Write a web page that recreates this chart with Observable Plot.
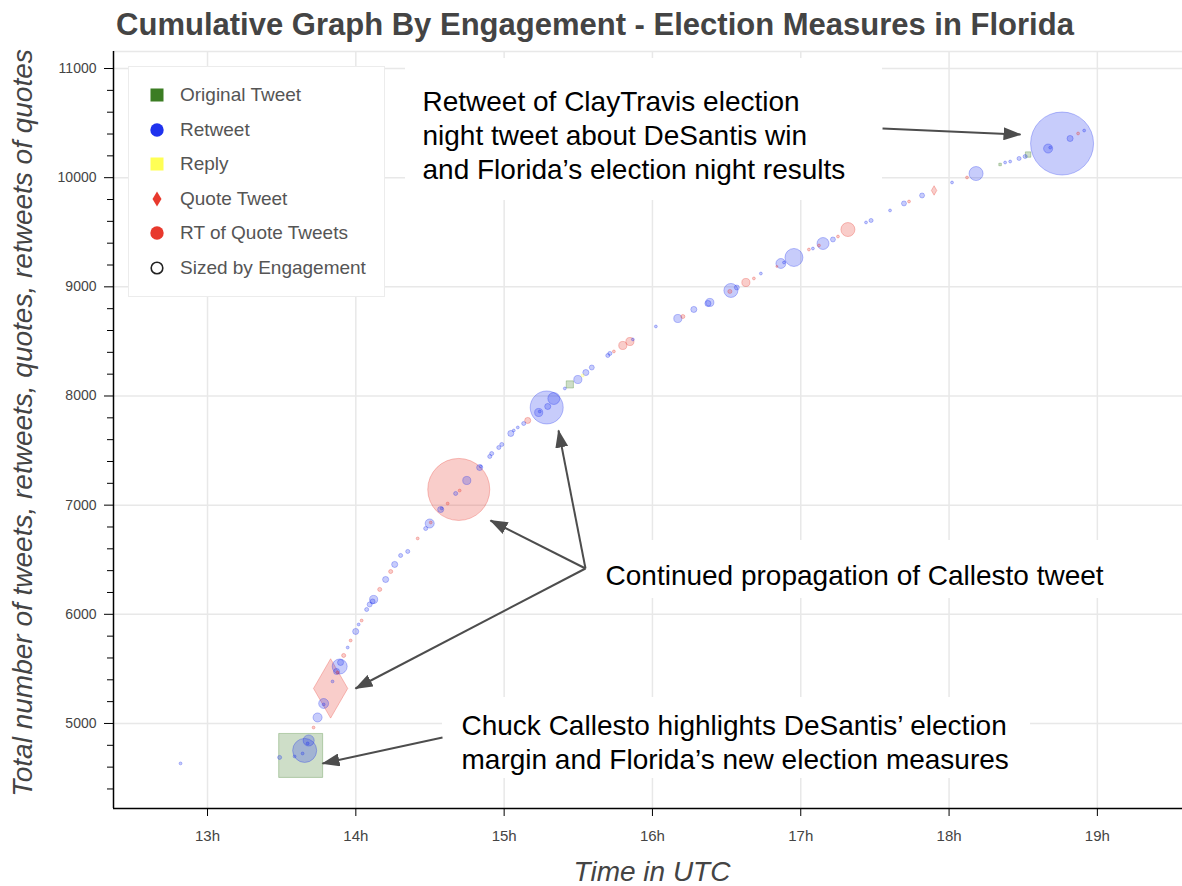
<!DOCTYPE html>
<html>
<head>
<meta charset="utf-8">
<script src="https://cdn.jsdelivr.net/npm/d3@7"></script>
<script src="https://cdn.jsdelivr.net/npm/@observablehq/plot@0.6"></script>
<style>
  body { margin: 0; background: #fff; }
  #wrap { position: relative; width: 1182px; height: 886px; overflow: hidden;
          font-family: "Liberation Sans", Arial, Helvetica, sans-serif; }
  #chart { position: absolute; left: 0; top: 0; }
  .ov { position: absolute; white-space: nowrap; line-height: 1; }
  #title { left: 0; top: 8.8px; width: 1190px; text-align: center; font-weight: bold; font-size: 31px; color: #444; }
  #xlabel { left: 452px; width: 400px; top: 858px; text-align: center; font-size: 28px; font-style: italic; color: #444; }
  #ylabel { left: -377px; top: 409px; width: 800px; height: 28px; text-align: center; font-size: 28px; font-style: italic; color: #444; transform: rotate(-90deg); }
  #legend { position: absolute; left: 128px; top: 66px; width: 257px; height: 231px; box-sizing: border-box;
            border: 1px solid #ececec; background: #fff; }
  .li { position: absolute; left: 0; height: 20px; width: 250px; }
  .li svg { position: absolute; left: 18px; top: 0; }
  .li span { position: absolute; left: 51px; top: 0; line-height: 20px; font-size: 19px; color: #555; white-space: nowrap; }
</style>
</head>
<body>
<div id="wrap">
  <div id="chart"></div>
  <div id="title" class="ov">Cumulative Graph By Engagement - Election Measures in Florida</div>
  <div id="xlabel" class="ov">Time in UTC</div>
  <div id="ylabel" class="ov">Total number of tweets, retweets, quotes, retweets of quotes</div>
  <div id="legend"></div>
</div>
<script>
// ---------- data ----------
const typeKeys   = ["OT", "RT", "RP", "QT", "RQ"];
const typeNames  = ["Original Tweet", "Retweet", "Reply", "Quote Tweet", "RT of Quote Tweets"];
const typeColors = ["#3b7d23", "#1f32ee", "#ffff55", "#e8392d", "#e8392d"];
const typeSymbols = ["square", "circle", "square", "diamond", "circle"];

// time in hours (UTC)
const times = [
  12.818, 13.486, 13.587, 13.628, 13.641, 13.655, 13.675, 13.682, 13.715, 13.742,
  13.783, 13.783, 13.830, 13.843, 13.870, 13.877, 13.891, 13.897, 13.918, 13.945,
  13.965, 13.999, 14.019, 14.039, 14.073, 14.093, 14.113, 14.120, 14.161, 14.201,
  14.235, 14.262, 14.302, 14.350, 14.417, 14.471, 14.498, 14.505, 14.572, 14.579,
  14.619, 14.673, 14.694, 14.700, 14.748, 14.835, 14.842, 14.903, 14.916, 14.964,
  14.984, 15.045, 15.065, 15.092, 15.132, 15.159, 15.233, 15.240, 15.287, 15.294,
  15.335, 15.409, 15.443, 15.497, 15.530, 15.551, 15.591, 15.699, 15.713, 15.740,
  15.800, 15.848, 15.868, 16.023, 16.171, 16.205, 16.279, 16.374, 16.387, 16.522,
  16.529, 16.569, 16.630, 16.684, 16.731, 16.839, 16.866, 16.887, 16.954, 17.055,
  17.082, 17.123, 17.150, 17.217, 17.251, 17.318, 17.440, 17.474, 17.602, 17.696,
  17.730, 17.818, 17.899, 18.020, 18.121, 18.182, 18.344, 18.378, 18.412, 18.472,
  18.513, 18.533, 18.668, 18.682, 18.762, 18.816, 18.870, 18.911
];
// cumulative number of tweets, retweets, quotes, retweets of quotes
const counts = [
  4634, 4689, 4698, 4707, 4725, 4753, 4817, 4844, 4963, 5055,
  5174, 5183, 5321, 5385, 5476, 5467, 5522, 5559, 5623, 5696,
  5760, 5843, 5907, 5943, 6044, 6090, 6118, 6136, 6228, 6319,
  6392, 6457, 6539, 6576, 6695, 6786, 6832, 6841, 6960, 6970,
  7015, 7107, 7144, 7134, 7226, 7345, 7354, 7446, 7473, 7528,
  7556, 7657, 7684, 7712, 7748, 7776, 7849, 7858, 7895, 7904,
  7977, 8069, 8106, 8151, 8188, 8215, 8261, 8371, 8390, 8408,
  8463, 8499, 8518, 8637, 8710, 8728, 8793, 8848, 8857, 8958,
  8967, 8994, 9040, 9077, 9122, 9187, 9214, 9223, 9269, 9342,
  9351, 9379, 9397, 9434, 9461, 9525, 9590, 9608, 9700, 9764,
  9782, 9837, 9883, 9956, 10002, 10038, 10121, 10139, 10148, 10176,
  10194, 10212, 10267, 10276, 10313, 10359, 10405, 10432
];
const kinds = [
  "RT","RT","RT","OT","RT","RT","RT","RT","RQ","RT",
  "RT","RT","QT","RT","RT","RQ","RT","RT","RQ","RT",
  "RQ","RT","RT","RQ","RT","RT","RT","RT","RQ","RT",
  "RQ","RT","RT","RT","RQ","RT","RT","RQ","RT","RT",
  "RQ","RT","RQ","RQ","RT","RT","RT","RT","RT","RT",
  "RT","RT","RT","RT","RT","RQ","RT","RT","RT","RT",
  "RT","RT","OT","RT","RP","RT","RT","RT","RT","RQ",
  "RQ","RQ","RT","RT","RT","RQ","RT","RT","RT","RQ",
  "RT","RT","RQ","RQ","RT","RQ","RT","RT","RT","RQ",
  "RT","RQ","RT","RT","RQ","RQ","RT","RT","RT","RT",
  "RQ","RT","QT","RT","RQ","RT","OT","RT","RT","RT",
  "RT","OT","RT","RT","RT","RT","RQ","RT"
];
// engagement (drives marker size)
const engagement = [
  2, 4, 2, 601, 2, 141, 2, 30, 2, 20,
  2, 24, 316, 2, 9, 2, 55, 9, 4, 2,
  2, 9, 2, 2, 4, 6, 6, 16, 4, 9,
  4, 9, 4, 4, 2, 4, 20, 2, 9, 2,
  2, 4, 939, 2, 16, 9, 2, 4, 4, 4,
  4, 9, 2, 2, 4, 9, 16, 2, 266, 9,
  35, 2, 16, 16, 2, 9, 6, 4, 4, 2,
  16, 16, 2, 2, 16, 4, 9, 9, 16, 4,
  48, 6, 16, 2, 2, 1, 24, 2, 79, 2,
  2, 2, 35, 6, 2, 48, 2, 4, 2, 6,
  2, 6, 8, 2, 2, 48, 2, 2, 2, 4,
  4, 9, 20, 2, 969, 9, 2, 2
];

// axis ticks
const xTicks = [13, 14, 15, 16, 17, 18, 19];
const yTicks = [5000, 6000, 7000, 8000, 9000, 10000, 11000];
const xDomain = [12.366, 19.574];
const yDomain = [4221, 11156];

// annotations
const noteTexts = [
  "Retweet of ClayTravis election\nnight tweet about DeSantis win\nand Florida\u2019s election night results",
  "Continued propagation of Callesto tweet",
  "Chuck Callesto highlights DeSantis\u2019 election\nmargin and Florida\u2019s new election measures"
];
const noteX = [14.4495, 15.6835, 14.7125];
const noteY = [10826, 6484, 5110];
const boxX1 = [14.335, 15.5486, 14.5844];
const boxX2 = [17.5513, 19.1897, 18.5492];
const boxY1 = [11092, 6676, 5238];
const boxY2 = [9791, 6145, 4496];
// arrows: from annotation to highlighted tweets
const arrowX1 = [17.5513, 15.5486, 15.5486, 15.5486, 14.5844];
const arrowY1 = [10450.6, 6419.7, 6419.7, 6419.7, 4871.4];
const arrowX2 = [18.4817, 14.908, 15.3666, 13.9978, 13.7753];
const arrowY2 = [10395.6, 6859.4, 7683.9, 5320.3, 4633.4];

// ---------- build tables ----------
const points = times.map((t, i) => ({t, n: counts[i], type: kinds[i], e: engagement[i]}));
const notes = noteTexts.map((text, i) => ({text, x: noteX[i], y: noteY[i]}));
const boxes = boxX1.map((x1, i) => ({x1, x2: boxX2[i], y1: boxY1[i], y2: boxY2[i]}));
const arrows = arrowX1.map((x1, i) => ({x1, y1: arrowY1[i], x2: arrowX2[i], y2: arrowY2[i]}));
const yMinor = d3.range(4400, 11001, 200).filter(v => v % 1000 !== 0);

const chart = Plot.plot({
  width: 1182,
  height: 886,
  marginLeft: 113,
  marginRight: 0,
  marginTop: 51,
  marginBottom: 78,
  style: {fontFamily: '"Liberation Sans", Arial, Helvetica, sans-serif', fontSize: "14px", color: "#000", background: "transparent", overflow: "visible"},
  x: {domain: xDomain, ticks: xTicks, tickFormat: d => `${d}h`, tickSize: 8, tickPadding: 14, label: null},
  y: {domain: yDomain, ticks: yTicks, tickFormat: d => `${d}`, tickSize: 9, tickPadding: 8, label: null},
  r: {type: "sqrt", domain: [0, 1000], range: [0, 32]},
  color: {domain: typeKeys, range: typeColors},
  symbol: {domain: typeKeys, range: typeSymbols},
  marks: [
    Plot.ruleX(xTicks, {stroke: "#e8e8e8", strokeWidth: 1.5}),
    Plot.ruleY(yTicks, {stroke: "#e8e8e8", strokeWidth: 1.5}),
    Plot.ruleY([yDomain[1]], {stroke: "#e8e8e8", strokeWidth: 1.5}),
    Plot.ruleY(yMinor, {x1: xDomain[0], x2: xDomain[0], insetLeft: -6, stroke: "#000", strokeWidth: 1}),
    Plot.rect(boxes, {x1: "x1", x2: "x2", y1: "y1", y2: "y2", fill: "white"}),
    Plot.dot(points, {x: "t", y: "n", r: "e", fill: "type", stroke: "type", symbol: "type",
                      fillOpacity: 0.25, strokeOpacity: 0.3, strokeWidth: 1}),
    Plot.ruleX([xDomain[0]], {stroke: "#000", strokeWidth: 1.5}),
    Plot.ruleY([yDomain[0]], {stroke: "#000", strokeWidth: 1.5}),
    Plot.link(arrows, {x1: "x1", y1: "y1", x2: "x2", y2: "y2", stroke: "#4d4d4d", strokeWidth: 2}),
    Plot.text(notes, {x: "x", y: "y", text: "text", textAnchor: "start", lineAnchor: "top",
                      lineHeight: 1.2, fontSize: 28, fill: "#000"})
  ]
});

// filled arrowheads
const ns = "http://www.w3.org/2000/svg";
const defs = document.createElementNS(ns, "defs");
const marker = document.createElementNS(ns, "marker");
marker.setAttribute("id", "ahead");
marker.setAttribute("viewBox", "0 0 18 13");
marker.setAttribute("refX", "17");
marker.setAttribute("refY", "6.5");
marker.setAttribute("markerWidth", "18");
marker.setAttribute("markerHeight", "13");
marker.setAttribute("markerUnits", "userSpaceOnUse");
marker.setAttribute("orient", "auto");
const mpath = document.createElementNS(ns, "path");
mpath.setAttribute("d", "M0,0L18,6.5L0,13Z");
mpath.setAttribute("fill", "#4d4d4d");
marker.appendChild(mpath);
defs.appendChild(marker);
chart.insertBefore(defs, chart.firstChild);
chart.querySelectorAll('g[aria-label="link"] path, g[aria-label="link"] line').forEach(p => p.setAttribute("marker-end", "url(#ahead)"));
chart.querySelectorAll('g[aria-label^="x-axis"] text, g[aria-label^="y-axis"] text').forEach(t => t.setAttribute("fill", "#444"));
chart.querySelectorAll('g[aria-label^="x-axis"] text').forEach(t => t.setAttribute("font-size", "15"));

document.getElementById("chart").appendChild(chart);

// legend
const legend = document.getElementById("legend");
const legendItems = typeNames.map((name, i) => ({name, color: typeColors[i], symbol: typeSymbols[i]}));
legendItems.push({name: "Sized by Engagement", color: "#222", symbol: "hollow"});
legendItems.forEach((it, i) => {
  const div = document.createElement("div");
  div.className = "li";
  div.style.top = (18 + i * 34.5) + "px";
  let shape;
  if (it.symbol === "square") shape = `<rect x="3.5" y="3.5" width="13" height="13" fill="${it.color}"/>`;
  else if (it.symbol === "circle") shape = `<circle cx="10" cy="10" r="6.7" fill="${it.color}"/>`;
  else if (it.symbol === "diamond") shape = `<polygon points="10,2.5 14.5,10 10,17.5 5.5,10" fill="${it.color}"/>`;
  else shape = `<circle cx="10" cy="10" r="5.8" fill="none" stroke="${it.color}" stroke-width="1.6"/>`;
  div.innerHTML = `<svg width="20" height="20" viewBox="0 0 20 20">${shape}</svg><span>${it.name}</span>`;
  legend.appendChild(div);
});
</script>
</body>
</html>
